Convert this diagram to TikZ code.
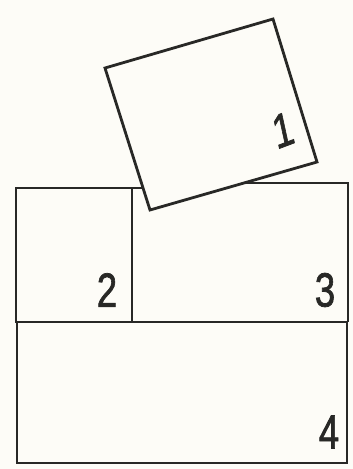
\documentclass[tikz,border=0pt]{standalone}
\usepackage{fontspec}
\setmainfont{Liberation Sans}
\newfontfamily\numfont[FakeBold=1.6]{Liberation Sans}
\usepackage{xcolor}
\usepackage{tikz}
\definecolor{paper}{RGB}{253,252,247}
\definecolor{ink}{RGB}{40,40,38}
\tikzset{every picture/.style={line width=2.8pt}}
\tikzset{
    blockline/.style={draw=ink, line join=miter},
    blocknum/.style={text=ink, inner sep=0pt, xscale=0.76, font=\numfont\fontsize{48}{48}\selectfont},
}

\begin{document}
\begin{tikzpicture}[x=1pt,y=1pt,yscale=-1,xscale=1]
    \fill [paper] (0,0) rectangle (353,469);
    \useasboundingbox (0,0) rectangle (353,469);
    % lower block
    \draw [blockline] (17,322) rectangle (347,463) ;
    % blocks on top of it
    \draw [blockline] (150,188) -- (16,188) -- (16,322) -- (132,322) -- (132,188) ;
    \draw [blockline] (150,183) -- (348,183) -- (348,322) ;
    % tilted block resting on 2 and 3
    \draw [blockline, fill=paper] (105,68) -- (273,19) -- (317,162) -- (150,210) -- cycle ;
    \node [blocknum, rotate=16] (num1) at (283,130) {1};
    \node [blocknum] (num2) at (107,290) {2};
    \node [blocknum] (num3) at (325,290) {3};
    \node [blocknum] (num4) at (329,432) {4};
\end{tikzpicture}
\end{document}
